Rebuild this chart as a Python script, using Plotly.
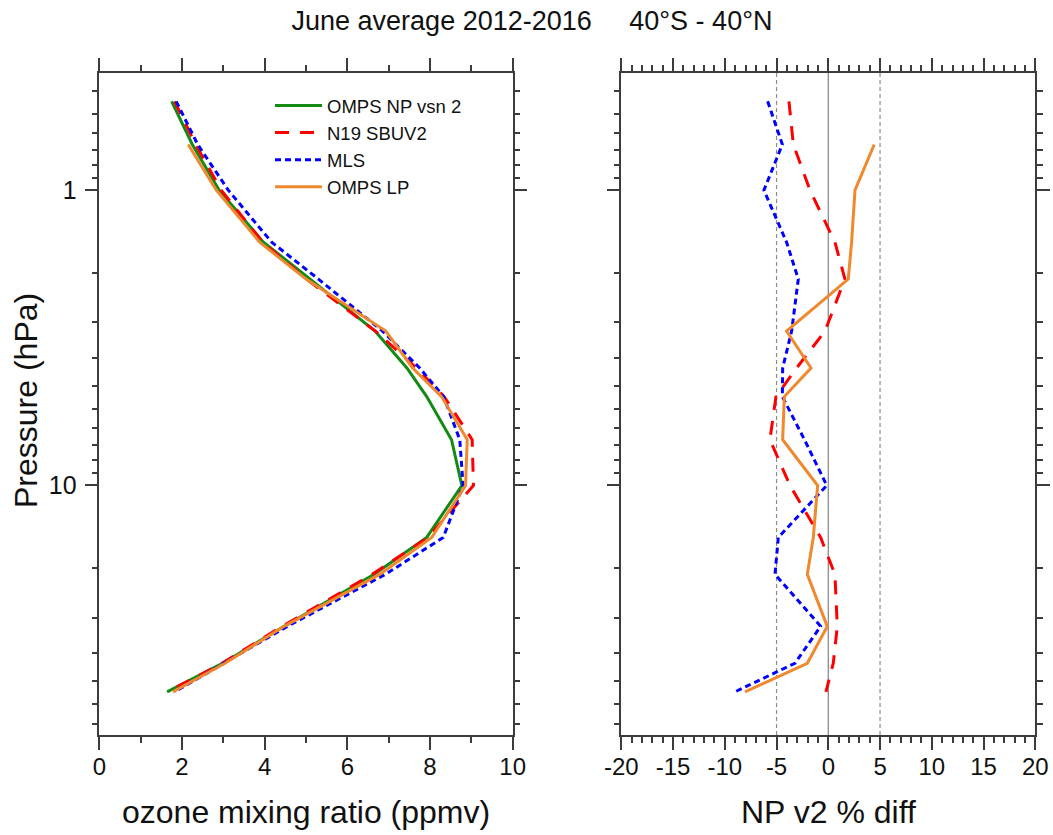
import numpy as np
import plotly.graph_objects as go

# Pressure levels (hPa) of the June 2012-2016 mean profiles, 40S-40N
pressure = [0.5, 0.7, 1, 1.5, 2, 3, 4, 5, 7, 10, 15, 20, 30, 40, 50]
pressure_lp = [0.7, 1, 1.5, 2, 3, 4, 5, 7, 10, 15, 20, 30, 40, 50]

# Ozone mixing ratio (ppmv)
omps_np_v2 = [1.75, 2.25, 2.90, 3.97, 5.10, 6.67, 7.44, 7.92, 8.52, 8.77, 7.92, 6.65, 4.47, 2.98, 1.64]
n19_sbuv2 = [1.82, 2.33, 2.95, 3.95, 5.01, 6.68, 7.67, 8.34, 9.02, 9.05, 7.95, 6.60, 4.42, 2.97, 1.65]
mls = [1.86, 2.38, 3.12, 4.17, 5.30, 6.85, 7.75, 8.33, 8.72, 8.80, 8.32, 6.92, 4.55, 3.02, 1.82]
omps_lp = [2.15, 2.83, 3.88, 5.00, 6.93, 7.58, 8.28, 8.90, 8.86, 8.04, 6.78, 4.47, 3.04, 1.78]

# NP v2 percent difference against each data set
diff_sbuv2 = [-3.80, -3.38, -1.77, 0.64, 1.61, -0.32, -3.06, -5.06, -5.64, -3.70, -0.74, 0.64, 0.87, 0.48, -0.23]
diff_mls = [-5.86, -4.44, -6.22, -4.03, -2.90, -3.54, -4.41, -4.44, -2.30, -0.15, -4.83, -5.15, -0.74, -3.22, -9.02]
diff_lp = [4.44, 2.58, 2.25, 1.93, -4.03, -1.67, -4.25, -4.41, -1.03, -1.45, -2.03, -0.10, -2.03, -8.05]

# axis tick labels
ratio_ticks = [0, 2, 4, 6, 8, 10]
diff_ticks = [-20, -15, -10, -5, 0, 5, 10, 15, 20]
pressure_ticks = [1, 10]

names = ["OMPS NP vsn 2", "N19 SBUV2", "MLS", "OMPS LP"]
colors = ["#138a13", "#ff0000", "#0000ff", "#f0882e"]
dashes = ["solid", "14px,11px", "6px,4px", "solid"]

W, H = 1053, 835
FONT = "Liberation Sans, Arial, sans-serif"
AXCOL = "#3c3c3c"

fig = go.Figure()

# left panel: profiles
profiles = [(omps_np_v2, pressure), (n19_sbuv2, pressure), (mls, pressure), (omps_lp, pressure_lp)]
for (vals, p), name, col, dash in zip(profiles, names, colors, dashes):
    fig.add_trace(go.Scatter(x=vals, y=p, mode="lines", name=name,
                             line=dict(color=col, width=3, dash=dash),
                             xaxis="x", yaxis="y"))

# right panel: percent differences
diffs = [(diff_sbuv2, pressure, 1), (diff_mls, pressure, 2), (diff_lp, pressure_lp, 3)]
for vals, p, i in diffs:
    fig.add_trace(go.Scatter(x=vals, y=p, mode="lines", name=names[i], showlegend=False,
                             line=dict(color=colors[i], width=3, dash=dashes[i]),
                             xaxis="x2", yaxis="y2"))

# minor pressure ticks: ten linear steps inside each decade
minor_p = []
for base in [0.1, 1.0, 10.0]:
    for k in range(1, 10):
        v = round(base * (1 + 0.9 * k), 6)
        if 0.4 < v < 70:
            minor_p.append(v)

x0, x1 = 99.3, 512.7
x2, x3 = 621.3, 1035.3
ytop, ybot = 72.7, 735.0
ydom = [1 - ybot / H, 1 - ytop / H]

common_x = dict(showline=True, linecolor=AXCOL, linewidth=1.5, mirror="ticks",
                ticks="outside", ticklen=13, tickwidth=1.5, tickcolor=AXCOL,
                showgrid=False, zeroline=False, automargin=False,
                tickfont=dict(family=FONT, size=24, color="#111"),
                ticklabelstandoff=-4)
yax = dict(type="log", range=[np.log10(70), np.log10(0.4)],
           showline=True, linecolor=AXCOL, linewidth=1.5, mirror="ticks",
           ticks="outside", ticklen=13, tickwidth=1.5, tickcolor=AXCOL,
           tickmode="array", tickvals=pressure_ticks,
           ticktext=[str(v) for v in pressure_ticks],
           showgrid=False, zeroline=False, automargin=False,
           minor=dict(tickmode="array", tickvals=minor_p, ticks="outside",
                      ticklen=6, tickwidth=1.5, tickcolor=AXCOL, showgrid=False))

fig.update_layout(
    width=W, height=H,
    margin=dict(l=0, r=0, t=0, b=0, autoexpand=False),
    paper_bgcolor="white", plot_bgcolor="white",
    font=dict(family=FONT, color="#111"),
    xaxis=dict(domain=[x0 / W, x1 / W], range=[0, 10], anchor="y",
               tickmode="array", tickvals=ratio_ticks,
               ticktext=[str(v) for v in ratio_ticks],
               minor=dict(tickmode="linear", tick0=0, dtick=1, ticks="outside", ticklen=6,
                          tickwidth=1.5, tickcolor=AXCOL, showgrid=False),
               **common_x),
    xaxis2=dict(domain=[x2 / W, x3 / W], range=[-20, 20], anchor="y2",
                tickmode="array", tickvals=diff_ticks,
                ticktext=[str(v) for v in diff_ticks],
                minor=dict(tickmode="linear", tick0=0, dtick=1, ticks="outside", ticklen=6,
                           tickwidth=1.5, tickcolor=AXCOL, showgrid=False),
                **common_x),
    yaxis=dict(domain=ydom, anchor="x", showticklabels=True,
               tickfont=dict(family=FONT, size=25, color="#111"),
               ticklabelstandoff=3, **yax),
    yaxis2=dict(domain=ydom, anchor="x2", showticklabels=False, **yax),
    showlegend=True,
    legend=dict(x=270 / W, y=1 - 87 / H, xanchor="left", yanchor="top",
                bgcolor="rgba(0,0,0,0)", borderwidth=0,
                font=dict(family=FONT, size=18.5, color="#111"),
                itemwidth=47, tracegroupgap=0),
    title=dict(text="June average 2012-2016\u00a0\u00a0\u00a0\u00a0\u00a040\u00b0S - 40\u00b0N",
               x=532 / W, xanchor="center", y=1 - 20.5 / H, yanchor="middle",
               font=dict(family=FONT, size=27, color="#111")),
)

# reference lines at 0 and +/-5 percent
fig.add_shape(type="line", xref="x2", yref="y2 domain", x0=0, x1=0, y0=0, y1=1,
              line=dict(color="#8c8c8c", width=1.3), layer="below")
for xv in [-5, 5]:
    fig.add_shape(type="line", xref="x2", yref="y2 domain", x0=xv, x1=xv, y0=0, y1=1,
                  line=dict(color="#8c8c8c", width=1.2, dash="4px,3px"), layer="below")

# axis titles
title_font = dict(family=FONT, size=32, color="#111")
fig.add_annotation(text="ozone mixing ratio (ppmv)", xref="paper", yref="paper",
                   x=(x0 + x1) / 2 / W, y=1 - 812 / H, xanchor="center", yanchor="middle",
                   showarrow=False, font=title_font)
fig.add_annotation(text="NP v2 % diff", xref="paper", yref="paper",
                   x=(x2 + x3) / 2 / W, y=1 - 812 / H, xanchor="center", yanchor="middle",
                   showarrow=False, font=title_font)
fig.add_annotation(text="Pressure (hPa)", xref="paper", yref="paper",
                   x=26 / W, y=1 - 401 / H, xanchor="center", yanchor="middle",
                   textangle=-90, showarrow=False, font=title_font)

fig.write_html("out.html")
